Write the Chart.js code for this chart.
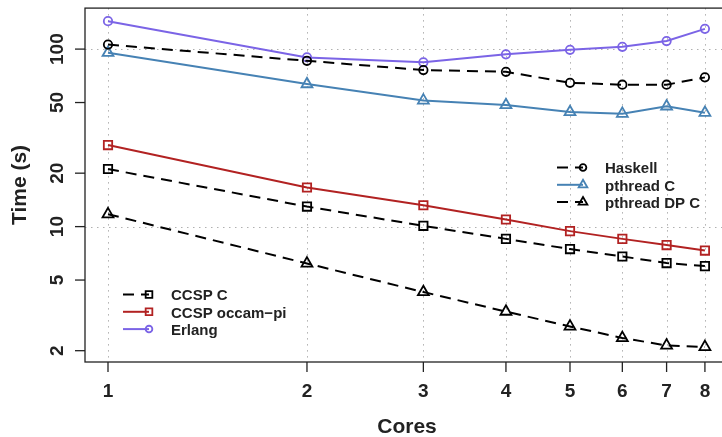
<!DOCTYPE html>
<html>
<head>
<meta charset="utf-8">
<script src="https://cdn.jsdelivr.net/npm/chart.js@4"></script>
<style>
  html, body { margin: 0; padding: 0; background: #fff; overflow: hidden; }
  #wrap { width: 722px; height: 437px; overflow: hidden; }
  canvas { display: block; }
</style>
</head>
<body>
<div id="wrap"><canvas id="coresChart" width="740" height="437"></canvas></div>
<script>
// Dữ liệu
const cores = [1, 2, 3, 4, 5, 6, 7, 8];
const yTicks = [2, 5, 10, 20, 50, 100];
const yGrid = [10, 100];

const haskell = [106, 85.9, 76.2, 74.5, 64.6, 63.0, 63.0, 69.3];
const pthreadC = [95.3, 63.5, 51.4, 48.4, 44.2, 43.3, 47.6, 43.8];
const pthreadDPC = [11.75, 6.2, 4.28, 3.32, 2.74, 2.36, 2.14, 2.10];
const ccspC = [21.1, 12.97, 10.1, 8.53, 7.47, 6.79, 6.23, 5.99];
const ccspOccam = [28.8, 16.6, 13.2, 10.96, 9.43, 8.53, 7.87, 7.33];
const erlang = [143.7, 89.8, 84.2, 93.4, 99.1, 103, 111, 130];

const FONT = '"Liberation Sans", Arial, Helvetica, sans-serif';
const TEXT = '#222';
const DASH = [11, 7];

function series(label, values, color, style, radius, dashed) {
    return {
        label: label,
        data: cores.map((c, i) => ({ x: c, y: values[i] })),
        borderColor: color,
        borderWidth: 2,
        borderDash: dashed ? DASH : [],
        pointStyle: style,
        pointRadius: radius,
        pointBorderColor: color,
        pointBackgroundColor: 'rgba(0,0,0,0)',
        pointBorderWidth: 1.8,
        tension: 0,
        fill: false
    };
}

// Vẽ ký hiệu điểm cho chú giải
function marker(ctx, style, x, y, r) {
    ctx.beginPath();
    if (style === 'circle') {
        ctx.arc(x, y, r, 0, Math.PI * 2);
    } else if (style === 'triangle') {
        for (let k = 0; k < 3; k++) {
            const a = k * 2 * Math.PI / 3;
            const px = x + Math.sin(a) * r, py = y - Math.cos(a) * r;
            if (k === 0) ctx.moveTo(px, py); else ctx.lineTo(px, py);
        }
        ctx.closePath();
    } else {
        const s = r * Math.SQRT1_2;
        ctx.rect(x - s, y - s, 2 * s, 2 * s);
    }
    ctx.stroke();
}

const legendGroups = [
    { x: 557, y: 167.5, items: [0, 1, 2] },
    { x: 123, y: 294.5, items: [3, 4, 5] }
];

const rPlot = {
    id: 'rPlot',
    beforeDatasetsDraw(chart) {
        const { ctx, chartArea: a, scales: { x, y } } = chart;
        ctx.save();
        ctx.strokeStyle = '#b0b0b0';
        ctx.lineWidth = 1;
        ctx.setLineDash([1.5, 4.5]);
        cores.forEach(c => {
            const px = Math.round(x.getPixelForValue(c)) + 0.5;
            ctx.beginPath(); ctx.moveTo(px, a.top); ctx.lineTo(px, a.bottom); ctx.stroke();
        });
        yGrid.forEach(v => {
            const py = Math.round(y.getPixelForValue(v)) + 0.5;
            ctx.beginPath(); ctx.moveTo(a.left, py); ctx.lineTo(a.right, py); ctx.stroke();
        });
        ctx.restore();
    },
    afterDraw(chart) {
        const { ctx, chartArea: a, scales: { x, y } } = chart;
        ctx.save();
        // khung
        ctx.strokeStyle = '#222';
        ctx.lineWidth = 1.3;
        ctx.strokeRect(a.left, a.top, a.right - a.left, a.bottom - a.top);
        // vạch chia và nhãn
        ctx.fillStyle = TEXT;
        ctx.font = 'bold 19px ' + FONT;
        ctx.textAlign = 'center';
        ctx.textBaseline = 'alphabetic';
        cores.forEach(c => {
            const px = x.getPixelForValue(c);
            ctx.beginPath(); ctx.moveTo(px, a.bottom); ctx.lineTo(px, a.bottom + 10); ctx.stroke();
            ctx.fillText(String(c), px, 397);
        });
        yTicks.forEach(v => {
            const py = y.getPixelForValue(v);
            ctx.beginPath(); ctx.moveTo(a.left, py); ctx.lineTo(a.left - 10, py); ctx.stroke();
            ctx.save();
            ctx.translate(63, py);
            ctx.rotate(-Math.PI / 2);
            ctx.fillText(String(v), 0, 0);
            ctx.restore();
        });
        // tiêu đề trục
        ctx.font = 'bold 21px ' + FONT;
        ctx.fillText('Cores', 407, 433);
        ctx.save();
        ctx.translate(26, 185);
        ctx.rotate(-Math.PI / 2);
        ctx.fillText('Time (s)', 0, 0);
        ctx.restore();
        // chú giải
        ctx.font = 'bold 15px ' + FONT;
        ctx.textAlign = 'left';
        legendGroups.forEach(g => {
            g.items.forEach((idx, row) => {
                const ds = chart.data.datasets[idx];
                const ly = g.y + row * 17.3;
                ctx.strokeStyle = ds.borderColor;
                ctx.lineWidth = 2;
                ctx.setLineDash(ds.borderDash);
                ctx.beginPath(); ctx.moveTo(g.x, ly); ctx.lineTo(g.x + 26, ly); ctx.stroke();
                ctx.setLineDash([]);
                ctx.lineWidth = 1.8;
                marker(ctx, ds.pointStyle, g.x + 26, ly, ds.pointRadius * 0.8);
                ctx.fillStyle = TEXT;
                ctx.fillText(ds.label, g.x + 48, ly + 5.7);
            });
        });
        ctx.restore();
    }
};

new Chart(document.getElementById('coresChart'), {
    type: 'line',
    data: {
        datasets: [
            series('Haskell', haskell, '#000000', 'circle', 4.2, true),
            series('pthread C', pthreadC, '#4682b4', 'triangle', 6.3, false),
            series('pthread DP C', pthreadDPC, '#000000', 'triangle', 6.3, true),
            series('CCSP C', ccspC, '#000000', 'rect', 5.9, true),
            series('CCSP occam\u2212pi', ccspOccam, '#b22222', 'rect', 5.9, false),
            series('Erlang', erlang, '#7b64e6', 'circle', 4.2, false)
        ]
    },
    options: {
        responsive: false,
        animation: false,
        devicePixelRatio: 1,
        layout: { padding: { left: 85, top: 8, right: 11, bottom: 75 } },
        scales: {
            x: { type: 'logarithmic', min: 0.923, max: 8.70, display: false },
            y: { type: 'logarithmic', min: 1.727, max: 170.2, display: false }
        },
        plugins: {
            legend: { display: false },
            tooltip: { enabled: false }
        },
        elements: { line: { borderCapStyle: 'butt' } }
    },
    plugins: [rPlot]
});
</script>
</body>
</html>
